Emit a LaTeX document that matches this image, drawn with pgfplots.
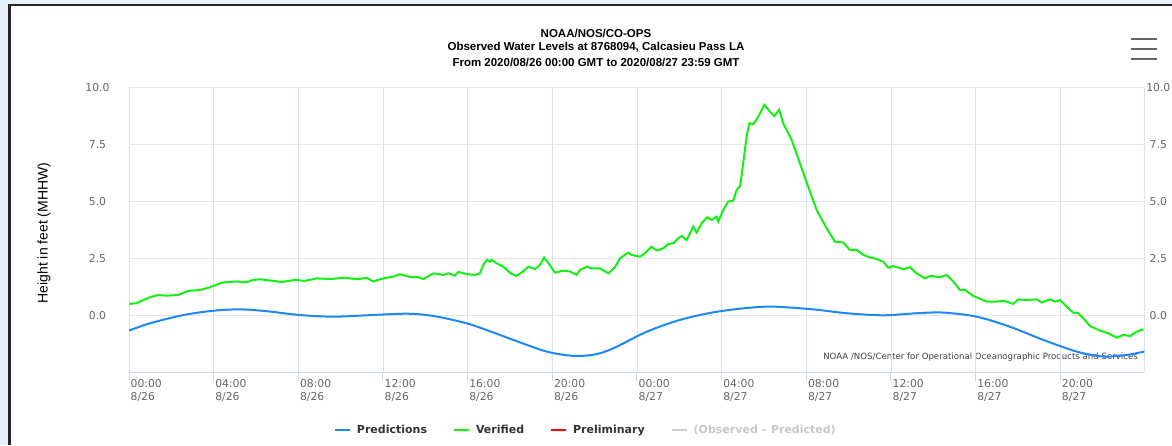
\documentclass[border=0pt]{standalone}
\usepackage{pgfplots}
\pgfplotsset{compat=1.18}
\usepackage{fontspec}
\setmainfont{Liberation Sans}
\newfontfamily\dv{DejaVu Sans}
\definecolor{predblue}{RGB}{30,136,245}
\definecolor{verigreen}{RGB}{20,240,20}
\definecolor{gridx}{RGB}{218,226,240}
\definecolor{gridy}{RGB}{230,230,230}
\definecolor{axiscol}{RGB}{204,214,235}
\definecolor{labgray}{RGB}{102,102,102}
\definecolor{frameblue}{RGB}{232,240,250}
\begin{document}
\begin{tikzpicture}[x=1pt,y=1pt]
\path[use as bounding box] (0,0) rectangle (1172,445);
\fill[frameblue] (0,0) rectangle (1172,445);
\fill[white] (8,0) rectangle (1172,441);
\fill[black!85] (8,0) rectangle (11,441);
\fill[black!85] (8,438.5) rectangle (1172,441);
% hamburger
\foreach \yy in {406,396,386}{\draw[labgray, line width=2pt] (1131,\yy) -- (1157,\yy);}
% titles
\node[font=\fontsize{11.5}{13}\selectfont\bfseries] at (596,412) {NOAA/NOS/CO-OPS};
\node[font=\fontsize{11.5}{13}\selectfont\bfseries] at (596,398) {Observed Water Levels at 8768094, Calcasieu Pass LA};
\node[font=\fontsize{11.5}{13}\selectfont\bfseries] at (596,383) {From 2020/08/26 00:00 GMT to 2020/08/27 23:59 GMT};
\node[rotate=90, font=\fontsize{14}{16}\selectfont] at (44,212) {Height in feet (MHHW)};
\node[anchor=east, inner sep=0, font=\dv\fontsize{8.6}{10}\selectfont, text=black!75] at (1138,88) {NOAA /NOS/Center for Operational Oceanographic Products and Services};
\begin{axis}[
  at={(129pt,72.7pt)}, anchor=south west,
  scale only axis, width=1015.3pt, height=285pt,
  xmin=0, xmax=47.97, ymin=-2.5, ymax=10,
  xtick={0,4,...,44},
  xticklabels={{00:00\\8/26},{04:00\\8/26},{08:00\\8/26},{12:00\\8/26},{16:00\\8/26},{20:00\\8/26},{00:00\\8/27},{04:00\\8/27},{08:00\\8/27},{12:00\\8/27},{16:00\\8/27},{20:00\\8/27}},
  extra x ticks={47.97}, extra x tick labels={},
  extra x tick style={grid=major, major tick length=0pt},
  xticklabel style={anchor=north west, align=left, inner sep=0pt, xshift=1.5pt, yshift=2pt, font=\dv\fontsize{10.8}{13}\selectfont, text=labgray},
  ytick={0,2.5,5,7.5,10},
  yticklabels={0.0,2.5,5.0,7.5,10.0},
  yticklabel style={anchor=center, xshift=-22.5pt, font=\dv\fontsize{10.8}{13}\selectfont, text=labgray},
  xmajorgrids, ymajorgrids,
  x grid style={draw=gridx, line width=0.8pt},
  y grid style={draw=gridy, line width=0.8pt},
  axis x line=bottom, axis y line=left,
  x axis line style={draw=axiscol, line width=1pt, -},
  y axis line style={draw=none},
  tick align=outside,
  xtick style={draw=axiscol, line width=1pt},
  major tick length=9pt,
  ytick style={draw=none},
  legend columns=-1,
  legend style={at={(axis description cs:0.450,-0.2025)}, anchor=center, draw=none, fill=none,
    font=\dv\bfseries\fontsize{11}{13}\selectfont, text=black!80,
    /tikz/every odd column/.append style={column sep=4pt},
    /tikz/every even column/.append style={column sep=24pt}},
  legend image code/.code={\draw[#1, line width=2pt] (0pt,0pt) -- (15pt,0pt);},
]
\addplot[predblue, line width=2pt, smooth] coordinates {
(0,-0.67) (0.99,-0.35) (2.57,0.01) (3.98,0.20) (5.24,0.26) (6.50,0.18) (8.08,0.01) (9.65,-0.06)
(11.23,0.00) (13.12,0.07) (14.38,-0.03) (15.95,-0.35) (17.2,-0.75) (18.16,-1.08) (19.73,-1.59)
(21.0,-1.78) (22.0,-1.72) (22.88,-1.45) (24.46,-0.72) (26.04,-0.20) (27.61,0.13) (29.18,0.32)
(30.44,0.38) (32.33,0.26) (33.91,0.09) (35.64,0.0) (37.21,0.09) (38.47,0.12) (40.05,-0.06)
(41.62,-0.50) (43.20,-1.08) (44.77,-1.59) (46.03,-1.81) (47.13,-1.74) (47.97,-1.59)};
\addlegendentry{Predictions}
\addplot[verigreen, line width=2pt] coordinates {
(0,0.50) (0.36,0.53) (0.68,0.67) (0.99,0.79) (1.39,0.89) (1.78,0.86) (2.33,0.89) (2.80,1.07)
(3.35,1.11) (3.83,1.23) (4.30,1.40) (4.61,1.46) (5.09,1.48) (5.56,1.45) (5.87,1.55) (6.19,1.58)
(6.82,1.51) (7.21,1.46) (7.84,1.55) (8.31,1.51) (8.87,1.62) (9.50,1.59) (10.20,1.65) (10.76,1.58)
(11.23,1.64) (11.54,1.49) (12.02,1.62) (12.49,1.70) (12.80,1.80) (13.28,1.68) (13.67,1.67)
(13.91,1.59) (14.38,1.84) (14.85,1.77) (15.09,1.84) (15.40,1.74) (15.56,1.90) (15.95,1.81)
(16.35,1.77) (16.58,1.84) (16.74,2.21) (16.90,2.43) (17.06,2.35) (17.13,2.43) (17.37,2.28)
(17.69,2.13) (18.0,1.87) (18.28,1.73) (18.55,1.87) (18.87,2.13) (19.18,2.03) (19.42,2.21)
(19.61,2.54) (19.82,2.28) (20.13,1.87) (20.52,1.96) (20.84,1.92) (21.15,1.77) (21.31,1.99)
(21.62,2.13) (21.86,2.06) (22.25,2.06) (22.65,1.84) (22.96,2.11) (23.20,2.50) (23.59,2.75)
(23.75,2.65) (24.14,2.57) (24.38,2.72) (24.69,3.01) (24.93,2.84) (25.24,2.94) (25.48,3.13)
(25.72,3.16) (25.95,3.38) (26.11,3.48) (26.35,3.30) (26.66,3.89) (26.82,3.63) (27.06,4.04)
(27.32,4.30) (27.53,4.18) (27.76,4.33) (27.84,4.11) (28.08,4.62) (28.31,4.99) (28.55,5.03)
(28.71,5.50) (28.87,5.67) (29.02,6.67) (29.18,7.84) (29.31,8.42) (29.50,8.38) (29.73,8.71)
(30.02,9.23) (30.28,8.93) (30.49,8.74) (30.72,9.01) (30.91,8.42) (31.31,7.69) (31.70,6.67)
(32.09,5.64) (32.49,4.62) (32.96,3.82) (33.35,3.23) (33.75,3.19) (34.06,2.87) (34.38,2.87)
(34.69,2.65) (35.0,2.54) (35.32,2.47) (35.64,2.35) (35.87,2.09) (36.11,2.16) (36.58,2.02)
(36.90,2.11) (37.21,1.84) (37.61,1.62) (37.85,1.73) (38.32,1.67) (38.63,1.77) (38.95,1.48)
(39.26,1.11) (39.50,1.11) (39.89,0.85) (40.28,0.70) (40.52,0.60) (41.0,0.60) (41.31,0.64)
(41.78,0.50) (42.02,0.70) (42.41,0.67) (42.88,0.70) (43.12,0.56) (43.52,0.70) (43.75,0.60)
(43.99,0.67) (44.38,0.31) (44.61,0.12) (44.85,0.09) (45.09,-0.13) (45.4,-0.47) (45.87,-0.67)
(46.27,-0.79) (46.66,-0.98) (46.98,-0.86) (47.3,-0.91) (47.61,-0.72) (47.93,-0.61)};
\addlegendentry{Verified}
\addlegendimage{red}
\addlegendentry{Preliminary}
\addlegendimage{black!20}
\addlegendentry{\textcolor{black!22}{(Observed – Predicted)}}
\end{axis}
\begin{axis}[
  at={(129pt,72.7pt)}, anchor=south west,
  scale only axis, width=1015.3pt, height=285pt,
  xmin=0, xmax=47.97, ymin=-2.5, ymax=10,
  hide x axis,
  axis y line*=right,
  y axis line style={draw=none},
  ytick={0,2.5,5,7.5,10},
  yticklabels={0.0,2.5,5.0,7.5,10.0},
  ytick style={draw=none},
  yticklabel style={anchor=center, xshift=14pt, font=\dv\fontsize{10.8}{13}\selectfont, text=labgray},
]
\addplot[draw=none] coordinates {(0,0)};
\end{axis}
\end{tikzpicture}
\end{document}
